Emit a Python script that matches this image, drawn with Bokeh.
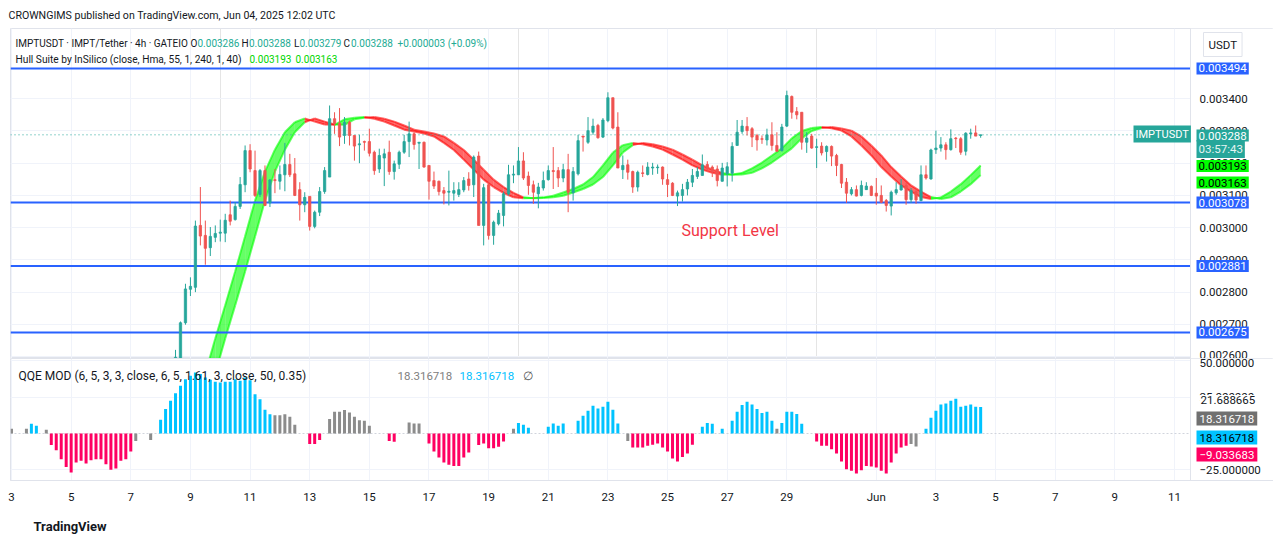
import numpy as np
import pandas as pd
from bokeh.plotting import figure
from bokeh.layouts import column
from bokeh.models import (Range1d, FixedTicker, Span, Label, ColumnDataSource, NumeralTickFormatter,
                          Grid, Title)
from bokeh.embed import file_html
from bokeh.resources import INLINE

# ---------------- data ----------------
candle_start = "2025-05-08 12:00"   # first visible 4h candle (earlier ones lie below the scale)
opens = [
    2588, 2593, 2705, 2809, 2815, 3007, 2976, 2938, 2970, 2983,
    2983, 3040, 3025, 3066, 3133, 3239, 3177, 3103, 3177, 3077,
    3149, 3144, 3164, 3196, 3167, 3118, 3071, 3097, 3004, 3048,
    3112, 3157, 3338, 3324, 3286, 3327, 3286, 3257, 3267, 3267,
    3234, 3182, 3216, 3234, 3174, 3197, 3234, 3267, 3291, 3262,
    3265, 3193, 3146, 3144, 3115, 3110, 3107, 3103, 3117, 3151,
    3133, 3222, 3007, 3133, 2976, 3012, 3038, 3105, 3163, 3164,
    3207, 3160, 3133, 3105, 3123, 3149, 3177, 3177, 3154, 3180,
    3108, 3167, 3284, 3265, 3296, 3317, 3281, 3332, 3403, 3312,
    3180, 3195, 3174, 3126, 3170, 3165, 3185, 3186, 3188, 3149,
    3138, 3098, 3100, 3120, 3141, 3159, 3162, 3196, 3188, 3182,
    3144, 3167, 3169, 3255, 3298, 3314, 3307, 3286, 3276, 3272,
    3288, 3255, 3239, 3315, 3407, 3360, 3358, 3265, 3284, 3249,
    3253, 3236, 3252, 3224, 3196, 3141, 3105, 3118, 3100, 3118,
    3128, 3107, 3100, 3084, 3067, 3108, 3117, 3131, 3087, 3112,
    3084, 3164, 3151, 3242, 3247, 3257, 3242, 3278, 3276, 3237,
    3291, 3294, 3286]
highs = [
    2621, 2709, 2826, 2846, 3022, 3126, 3022, 3002, 3007, 3025,
    3043, 3084, 3079, 3157, 3255, 3259, 3239, 3182, 3193, 3151,
    3182, 3193, 3263, 3229, 3216, 3141, 3110, 3097, 3053, 3126,
    3188, 3379, 3358, 3371, 3343, 3332, 3286, 3288, 3270, 3307,
    3239, 3245, 3245, 3270, 3208, 3239, 3288, 3329, 3296, 3265,
    3267, 3193, 3174, 3146, 3126, 3177, 3141, 3141, 3157, 3172,
    3224, 3236, 3136, 3141, 3022, 3055, 3112, 3195, 3193, 3250,
    3234, 3174, 3146, 3139, 3174, 3193, 3250, 3188, 3198, 3229,
    3188, 3288, 3284, 3343, 3338, 3322, 3340, 3420, 3403, 3358,
    3224, 3211, 3177, 3177, 3193, 3203, 3201, 3196, 3190, 3167,
    3141, 3115, 3136, 3151, 3182, 3188, 3227, 3206, 3193, 3193,
    3201, 3203, 3265, 3334, 3334, 3343, 3312, 3291, 3286, 3307,
    3327, 3296, 3322, 3425, 3410, 3374, 3358, 3296, 3291, 3276,
    3265, 3255, 3255, 3229, 3198, 3154, 3126, 3131, 3146, 3141,
    3131, 3154, 3131, 3089, 3115, 3141, 3151, 3139, 3123, 3120,
    3193, 3193, 3245, 3301, 3281, 3265, 3305, 3281, 3281, 3296,
    3307, 3317, 3288]
lows = [
    2585, 2585, 2699, 2788, 2800, 2945, 2885, 2912, 2955, 2957,
    2955, 3007, 3022, 3058, 3110, 3172, 3095, 3095, 3067, 3064,
    3107, 3118, 3113, 3157, 3098, 3022, 3048, 2991, 2998, 3036,
    3105, 3157, 3291, 3253, 3260, 3255, 3208, 3200, 3239, 3221,
    3164, 3170, 3129, 3164, 3149, 3182, 3229, 3219, 3242, 3182,
    3186, 3087, 3120, 3100, 3072, 3069, 3084, 3095, 3110, 3115,
    3095, 3007, 2945, 2963, 2947, 3007, 3004, 3100, 3138, 3164,
    3148, 3102, 3074, 3060, 3115, 3146, 3120, 3126, 3141, 3048,
    3084, 3162, 3236, 3260, 3288, 3276, 3278, 3327, 3305, 3185,
    3151, 3149, 3108, 3112, 3157, 3162, 3164, 3167, 3133, 3095,
    3098, 3067, 3081, 3100, 3126, 3151, 3162, 3174, 3157, 3128,
    3143, 3128, 3143, 3255, 3291, 3286, 3250, 3239, 3260, 3255,
    3239, 3236, 3236, 3312, 3338, 3336, 3242, 3232, 3245, 3185,
    3224, 3205, 3191, 3160, 3123, 3077, 3100, 3097, 3097, 3117,
    3098, 3071, 3076, 3050, 3038, 3102, 3115, 3071, 3077, 3074,
    3082, 3149, 3149, 3229, 3236, 3211, 3239, 3247, 3226, 3224,
    3276, 3284, 3279]
closes = [
    2598, 2705, 2810, 2818, 3005, 2974, 2936, 2973, 2982, 2986,
    3023, 3020, 3066, 3134, 3239, 3182, 3100, 3177, 3069, 3148,
    3146, 3165, 3196, 3164, 3100, 3071, 3094, 3004, 3048, 3112,
    3177, 3338, 3322, 3281, 3327, 3286, 3253, 3260, 3265, 3231,
    3177, 3224, 3229, 3174, 3198, 3234, 3267, 3291, 3258, 3265,
    3188, 3144, 3129, 3112, 3107, 3113, 3115, 3118, 3146, 3131,
    3219, 3007, 3124, 2976, 3017, 3045, 3105, 3164, 3166, 3207,
    3154, 3131, 3110, 3126, 3146, 3177, 3174, 3154, 3180, 3110,
    3174, 3270, 3281, 3301, 3315, 3279, 3334, 3403, 3309, 3185,
    3193, 3172, 3126, 3172, 3168, 3188, 3188, 3188, 3151, 3134,
    3100, 3108, 3118, 3141, 3162, 3174, 3195, 3182, 3174, 3146,
    3185, 3189, 3252, 3296, 3315, 3301, 3281, 3272, 3274, 3288,
    3255, 3237, 3312, 3410, 3358, 3350, 3265, 3278, 3247, 3251,
    3232, 3252, 3222, 3193, 3138, 3107, 3118, 3098, 3131, 3129,
    3100, 3098, 3079, 3069, 3110, 3118, 3131, 3087, 3115, 3086,
    3164, 3154, 3241, 3247, 3257, 3242, 3276, 3276, 3234, 3293,
    3294, 3284, 3288]
price_unit = 1e-6  # values above are in micro-USDT

# Hull Suite (HMA 55) read every second candle (8h), micro-USDT
hull = [None, None, 2448, 2548, 2656, 2759, 2864, 2973, 3084, 3174,
        3242, 3296, 3327, 3339, 3329, 3320, 3319, 3336, 3341, 3343,
        3338, 3329, 3317, 3304, 3298, 3292, 3283, 3263, 3241, 3211,
        3180, 3149, 3126, 3108, 3094, 3091, 3092, 3094, 3099, 3109,
        3120, 3134, 3157, 3193, 3233, 3256, 3263, 3259, 3252, 3242,
        3227, 3211, 3193, 3180, 3170, 3164, 3165, 3170, 3184, 3202,
        3224, 3246, 3277, 3300, 3309, 3312, 3308, 3301, 3283, 3255,
        3224, 3188, 3159, 3131, 3112, 3095, 3089, 3094, 3112, 3135,
        3163, 3193]

# QQE MOD histogram, one value per 4h candle
qqe_start = "2025-05-03 00:00"
qqe_hist = [
    3.2, 0, 0, 3.2, 6.7, 5.3, 0, 2.5, -8.0, -11.5,
    -17.7, -23.0, -26.9, -20.0, -18.8, -20.7, -18.4, -17.7, -17.7, -21.1,
    -25.0, -24.1, -18.8, -17.7, -12.4, -5.1, 0, 0, -4.4, 0,
    9.4, 16.8, 22.5, 27.8, 32.8, 37.4, 39.7, 42.0, 40.9, 38.6,
    37.0, 35.6, 35.1, 35.6, 35.6, 37.4, 36.3, 38.6, 36.7, 27.1,
    23.6, 16.3, 13.3, 12.6, 12.6, 13.3, 11.5, 6.0, 0, 0,
    -7.3, -7.3, -4.4, 0, 9.9, 14.9, 14.9, 16.1, 14.5, 11.5,
    9.2, 8.7, 5.3, 0, 0, 0, -5.1, -5.7, 0, 0,
    7.6, 6.9, 6.9, 0, -6.9, -12.4, -16.5, -20.0, -21.6, -22.3,
    -22.3, -16.5, -13.1, 0, -8.0, -6.9, -10.1, -10.1, -9.2, -5.5,
    0, 3.2, 7.3, 6.0, 3.9, 0, 0, 0, 4.6, 6.9,
    5.3, 6.9, 0, 0, 8.7, 12.2, 15.6, 19.1, 17.2, 18.4,
    21.8, 16.3, 6.9, 0, -5.1, -9.6, -9.6, -9.6, -8.5, -7.8,
    -6.9, -9.6, -12.4, -17.2, -19.3, -16.1, -13.8, -7.8, 0, 4.6,
    7.3, 6.7, 0, 3.2, 0, 8.7, 14.9, 19.7, 21.8, 20.0,
    16.8, 14.2, 14.9, 8.7, 3.2, 7.3, 14.9, 14.9, 13.5, 6.7,
    0, 0, -5.5, -8.5, -8.5, -10.8, -13.8, -19.3, -24.6, -25.7,
    -27.6, -25.3, -22.3, -22.7, -23.4, -25.7, -27.6, -20.0, -13.8, -9.6,
    -8.5, -7.3, -9.0, 0, 3.2, 10.8, 15.6, 20.0, 20.7, 22.5,
    23.9, 18.4, 19.1, 20.0, 18.4, 18.3]
# U = above upper threshold, D = below lower, N = neutral
qqe_state = list(
    "NNNNUUNNDD" "DDDDDDDDDD" "DDDDDNNNNN" "UUUUUUUUUU" "UUUUUUUUUU"
    "UUUNNNNNNN" "DDDNNNNNNN" "NNNNNNDDNN" "NNNNDDDDDD" "DDDNDDDDDD"
    "NNUUUNNNUU" "UUNNUUUUUU" "UUUNNDDDDD" "DDDDDDDDNU" "UUNUNUUUUU"
    "UUUUNUUUUU" "NNDDDDDDDD" "DDDDDDDDDD" "DNNNUUUUUU" "UUUUUU")
qqe_other = ["18.316718", "18.316718", "21.688665", "-9.033683"]

levels = [0.003494, 0.003078, 0.002881, 0.002675]
price_ticks = [0.0026, 0.0027, 0.0028, 0.0029, 0.0030, 0.0031, 0.0032, 0.0033, 0.0034]
qqe_ticks = [50, 25, -25]
day_ticks = [3, 5, 7, 9, 11, 13, 15, 17, 19, 21, 23, 25, 27, 29, 32, 34, 36, 38, 40, 42]
day_labels = ["3", "5", "7", "9", "11", "13", "15", "17", "19", "21", "23", "25", "27", "29",
              "Jun", "3", "5", "7", "9", "11"]

# ---------------- styles ----------------
FONT = "Roboto"
TXT = "#131722"
GRID = "#f0f3fa"
BORDER = "#e0e3eb"
UP, DN = "#26a69a", "#ef5350"
LEVEL = "#2962ff"
HULL_UP, HULL_DN = "#00ff00", "#ff0000"
QCOL = {"U": "#00c3ff", "D": "#ff0062", "N": "#8c8c8c"}
VAL = "#22ab94"

LEFT, TOP_A = 10, 28
CHART_W = 1180            # width of the plotting area left of the price scale
SCALE_W = 83              # width of the price-scale column (inside the frame)
FRAME_W = CHART_W + SCALE_W
A_H, B_H = 330, 122
X0, X1 = 2.966, 42.537    # days shown across the plotting area
XE = X0 + (X1 - X0) * FRAME_W / CHART_W
PY0, PY1 = 2594.2e-6, 3617.8e-6
Q0, Q1 = -32.37, 51.65
B_TOP = TOP_A + A_H
STANDOFF = (LEFT + CHART_W + 9) - (LEFT + FRAME_W)   # put scale labels 9px right of the separator

t0 = pd.Timestamp("2025-04-30")


def to_day(idx):
    return np.asarray((idx - t0) / pd.Timedelta(days=1), dtype=float)


def lab(p, cx, cy, text, color=TXT, size="11.5px", bg=None, style="normal", pad=2, border=None):
    """Text placed in canvas pixels of figure p."""
    kw = dict(x=cx, y=cy, x_units="canvas", y_units="canvas", text=text, text_color=color,
              text_font=FONT, text_font_size=size, text_baseline="middle", text_align="left",
              text_font_style=style)
    if bg is not None:
        kw.update(background_fill_color=bg, padding=pad)
    if border is not None:
        kw.update(border_line_color=border, padding=pad)
    p.add_layout(Label(**kw))


def style_axis(ax, standoff):
    ax.major_tick_line_color = None
    ax.minor_tick_line_color = None
    ax.major_tick_out = 0
    ax.major_tick_in = 0
    ax.axis_line_color = BORDER
    ax.major_label_text_font = FONT
    ax.major_label_text_font_size = "11.5px"
    ax.major_label_text_color = TXT
    ax.major_label_standoff = standoff


def scale_column(p, y0, y1):
    # white price-scale column with its separator line
    p.quad(left=[X1], right=[XE], bottom=[y0], top=[y1], fill_color="white", line_color=None)
    p.add_layout(Span(location=X1, dimension="height", line_color=BORDER, line_width=1))


# ---------------- price pane ----------------
pA = figure(frame_width=FRAME_W, frame_height=A_H, x_range=Range1d(X0, XE), y_range=Range1d(PY0, PY1),
            x_axis_location=None, y_axis_location="right", toolbar_location=None, output_backend="svg",
            min_border_left=LEFT, min_border_right=0, min_border_top=TOP_A, min_border_bottom=0,
            background_fill_color="white", border_fill_color="white", outline_line_color=BORDER)
ya = pA.yaxis[0]
ya.ticker = FixedTicker(ticks=price_ticks)
ya.formatter = NumeralTickFormatter(format="0.000000")
style_axis(ya, STANDOFF)
pA.ygrid.ticker = FixedTicker(ticks=price_ticks)
pA.ygrid.grid_line_color = GRID
pA.add_layout(Grid(dimension=0, ticker=FixedTicker(ticks=day_ticks), grid_line_color=GRID))
pA.add_layout(Title(text="CROWNGIMS published on TradingView.com, Jun 04, 2025 12:02 UTC",
                    align="left", text_font=FONT, text_font_size="10.6px", text_font_style="normal",
                    text_color=TXT, standoff=13, offset=-2), "above")

o = np.array(opens) * price_unit
h = np.array(highs) * price_unit
l = np.array(lows) * price_unit
c = np.array(closes) * price_unit
cx = to_day(pd.date_range(candle_start, periods=len(opens), freq="4h"))
ccol = np.where(c >= o, UP, DN)

# Hull band: MHULL and SHULL (= MHULL two candles earlier), coloured by direction
hv = np.array([np.nan if v is None else v for v in hull], dtype=float) * price_unit
hx = to_day(pd.date_range(candle_start, periods=len(hull), freq="8h"))
xs, ys, pc = [], [], []
tx0, ty0, tx1, ty1, by0, by1 = [], [], [], [], [], []
for k in range(2, len(hv)):
    if np.isnan(hv[k - 2]):
        continue
    col = HULL_UP if hv[k] > hv[k - 1] else HULL_DN
    xs.append([hx[k - 1], hx[k], hx[k], hx[k - 1]])
    ys.append([hv[k - 1], hv[k], hv[k - 1], hv[k - 2]])
    pc.append(col)
    tx0.append(hx[k - 1]); tx1.append(hx[k])
    ty0.append(hv[k - 1]); ty1.append(hv[k])
    by0.append(hv[k - 2]); by1.append(hv[k - 1])
pA.patches(xs=xs, ys=ys, fill_color=pc, fill_alpha=0.6, line_color=None)
pA.segment(x0=tx0, y0=ty0, x1=tx1, y1=ty1, line_color=pc, line_alpha=0.6, line_width=2)
pA.segment(x0=tx0, y0=by0, x1=tx1, y1=by1, line_color=pc, line_alpha=0.6, line_width=2)

pA.segment(x0=[X0] * len(levels), y0=levels, x1=[X1] * len(levels), y1=levels,
           line_color=LEVEL, line_width=2)
pA.segment(x0=[X0], y0=[c[-1]], x1=[X1], y1=[c[-1]], line_color=UP, line_width=1, line_dash="1 3")

csrc = ColumnDataSource(dict(x=cx, hi=h, lo=l, top=np.maximum(o, c), bot=np.minimum(o, c), col=ccol))
pA.segment(x0="x", y0="hi", x1="x", y1="lo", line_color="col", line_width=1, source=csrc)
pA.vbar(x="x", width=2.3 / 29.82, top="top", bottom="bot", fill_color="col", line_color="col",
        line_width=0.8, source=csrc)
scale_column(pA, PY0, PY1)

# legend texts of the price pane (canvas pixels)
lab(pA, 15, 42.5, "IMPTUSDT · IMPT/Tether · 4h · GATEIO", size="10px")
for px_l, px_v, letter, v in [(190, 197, "O", o[-1]), (241, 248.5, "H", h[-1]),
                               (293.5, 299, "L", l[-1]), (343, 350.5, "C", c[-1])]:
    lab(pA, px_l, 42.5, letter, size="10px")
    lab(pA, px_v, 42.5, f"{v:.6f}", color=VAL, size="10px")
lab(pA, 397, 42.5, "+0.000003 (+0.09%)", color=VAL, size="10px")
lab(pA, 15, 58.5, "Hull Suite by InSilico (close, Hma, 55, 1, 240, 1, 40)", size="10.2px")
lab(pA, 249, 58.5, f"{hv[-1]:.6f}", color="#00d600", size="10px")
lab(pA, 295, 58.5, f"{hv[-2]:.6f}", color="#00d600", size="10px")
lab(pA, 681, 230, "Support Level", color="#f23645", size="16px")

# price-scale tags
lab(pA, 1203, 44, "USDT", border=BORDER, bg="white", pad=5)
for lv in levels:
    ly = TOP_A + (PY1 - lv) / (PY1 - PY0) * A_H
    lab(pA, 1196, ly, f"{lv:.6f}", color="white", bg=LEVEL)
lab(pA, 1133, 133.5, "IMPTUSDT", color="white", bg=UP, size="11px")
lab(pA, 1196, 135, f"{c[-1]:.6f}", color="white", bg=UP)
lab(pA, 1196, 148.5, "03:57:43", color="#e6f5f3", bg=UP)
lab(pA, 1196, 165.5, f"{hv[-1]:.6f}", color="black", bg="#00ff00")
lab(pA, 1196, 182, f"{hv[-2]:.6f}", color="black", bg="#00ff00")

# ---------------- QQE pane ----------------
pB = figure(frame_width=FRAME_W, frame_height=B_H, x_range=pA.x_range, y_range=Range1d(Q0, Q1),
            x_axis_location="below", y_axis_location="right", toolbar_location=None, output_backend="svg",
            min_border_left=LEFT, min_border_right=0, min_border_top=0, min_border_bottom=58,
            background_fill_color="white", border_fill_color="white", outline_line_color=BORDER)
yb = pB.yaxis[0]
yb.ticker = FixedTicker(ticks=qqe_ticks)
yb.major_label_overrides = {t: (f"{t:.6f}".replace("-", "\u2212")) for t in qqe_ticks}
style_axis(yb, STANDOFF)
xb = pB.xaxis[0]
xb.ticker = FixedTicker(ticks=day_ticks)
xb.major_label_overrides = {t: s for t, s in zip(day_ticks, day_labels)}
style_axis(xb, 9)
pB.xgrid.ticker = FixedTicker(ticks=day_ticks)
pB.xgrid.grid_line_color = GRID
pB.ygrid.ticker = FixedTicker(ticks=qqe_ticks)
pB.ygrid.grid_line_color = GRID
pB.segment(x0=[X0], y0=[0], x1=[X1], y1=[0], line_color="#d1d4dc", line_width=1, line_dash="2 2")
pB.add_layout(Title(text="TradingView", align="left", text_font=FONT, text_font_size="13px",
                    text_font_style="bold", text_color=TXT, standoff=21, offset=23), "below")

qv = np.array(qqe_hist, dtype=float)
qx = to_day(pd.date_range(qqe_start, periods=len(qv), freq="4h"))
qc = np.array([QCOL[s] for s in qqe_state])
m = qv != 0
qsrc = ColumnDataSource(dict(x=qx[m], top=qv[m], col=qc[m]))
pB.vbar(x="x", width=3.0 / 29.82, top="top", bottom=0, fill_color="col", line_color=None, source=qsrc)
scale_column(pB, Q0, Q1)

yq = 375 - B_TOP
lab(pB, 18, yq, "QQE MOD (6, 5, 3, 3, close, 6, 5, 1.61, 3, close, 50, 0.35)", size="12px")
lab(pB, 397, yq, qqe_other[0], color="#808080", size="11.5px")
lab(pB, 459, yq, qqe_other[1], color="#00bfff", size="11.5px")
lab(pB, 522, yq, "\u2205", color="#555555", size="12px")
lab(pB, 1199, 399.5 - B_TOP, qqe_other[2], bg="white", pad=1)
lab(pB, 1196, 418 - B_TOP, qqe_other[0], color="white", bg="#707070", pad=3)
lab(pB, 1196, 437 - B_TOP, qqe_other[1], color="black", bg="#00c3ff", pad=3)
lab(pB, 1196, 454 - B_TOP, qqe_other[3].replace("-", "\u2212"), color="white", bg="#ff0062", pad=3)

layout = column(pA, pB, spacing=0)
open("out.html", "w").write(file_html(layout, INLINE))
